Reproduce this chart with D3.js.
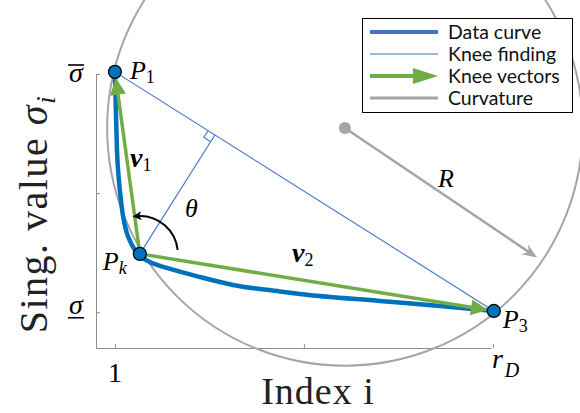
<!DOCTYPE html>
<html>
<head>
<meta charset="utf-8">
<script src="https://cdn.jsdelivr.net/npm/d3@7"></script>
<style>
  body { margin: 0; background: #fff; }
  text { font-family: "Liberation Serif", serif; }
  .legend text { font-family: Lato, "Open Sans", sans-serif; }
</style>
</head>
<body>
<script>
const width = 580;
const height = 413;

// Data: singular value curve (index, value)
const curveIdx = [1.000, 1.005, 1.011, 1.021, 1.032, 1.042, 1.063, 1.085, 1.106, 1.132,
  1.185, 1.275, 1.450, 1.624, 1.873, 1.979, 2.402, 2.720, 3.005];
const curveVal = [3.018, 2.699, 2.363, 2.111, 1.943, 1.817, 1.666, 1.582, 1.523, 1.473,
  1.422, 1.372, 1.296, 1.229, 1.175, 1.154, 1.095, 1.053, 1.011];

// Knee points P1, Pk, P3
const kneeNames = ["1", "k", "3"];
const kneeIdx = [1.0, 1.132, 3.005];
const kneeVal = [3.018, 1.49, 1.011];

// Curvature circle centre
const centreIdx = 2.217;
const centreVal = 2.547;

const xTicks = [1, 2, 3];
const xTickLabels = ["1", "", "r_D"];
const yTicks = [1, 2, 3];
const yTickLabels = ["under", "", "over"];

const legendItems = ["Data curve", "Knee finding", "Knee vectors", "Curvature"];

const blue = "#0072BD";
const lightBlue = "#4472C4";
const green = "#70AD47";
const grey = "#A5A5A5";
const axisGrey = "#8c8c8c";

// Scales
const x = d3.scaleLinear().domain([0.9, 2.99]).range([96, 491]);
const y = d3.scaleLinear().domain([0.7, 3]).range([348, 74]);

const svg = d3
  .select("body")
  .append("svg")
  .attr("width", width)
  .attr("height", height);

// Axes
const xAxis = d3.axisBottom(x).tickValues(xTicks).tickSizeInner(-4).tickSizeOuter(0).tickFormat("");
const yAxis = d3.axisLeft(y).tickValues(yTicks).tickSizeInner(-4).tickSizeOuter(0).tickFormat("");

const gx = svg.append("g").attr("transform", `translate(0,${y(0.7)})`).call(xAxis);
const gy = svg.append("g").attr("transform", `translate(${x(0.9)},0)`).call(yAxis);
[gx, gy].forEach(g => {
  g.select(".domain").attr("stroke", axisGrey);
  g.selectAll(".tick line").attr("stroke", axisGrey);
});

// x tick labels
svg.append("text").attr("x", x(xTicks[0])).attr("y", 382)
  .attr("text-anchor", "middle").attr("font-size", 28).text(xTickLabels[0]);
const rd = svg.append("text").attr("x", x(xTicks[2]) - 1).attr("y", 368).attr("font-size", 28);
rd.append("tspan").attr("font-style", "italic").text("r");
rd.append("tspan").attr("font-style", "italic").attr("font-size", 20).attr("dy", 9).attr("dx", 2).text("D");

// y tick labels (sigma with bar)
svg.append("text").attr("x", 76).attr("y", y(yTicks[2]) + 8)
  .attr("text-anchor", "middle").attr("font-size", 28).attr("font-style", "italic").text("σ");
svg.append("line").attr("x1", 68).attr("x2", 84)
  .attr("y1", y(yTicks[2]) - 9).attr("y2", y(yTicks[2]) - 9)
  .attr("stroke", "#000").attr("stroke-width", 1.6);
svg.append("text").attr("x", 76).attr("y", y(yTicks[0]) + 2)
  .attr("text-anchor", "middle").attr("font-size", 28).attr("font-style", "italic").text("σ");
svg.append("line").attr("x1", 68).attr("x2", 84)
  .attr("y1", y(yTicks[0]) + 5.5).attr("y2", y(yTicks[0]) + 5.5)
  .attr("stroke", "#000").attr("stroke-width", 1.6);

// Axis titles
svg.append("text").attr("x", 318).attr("y", 404).attr("text-anchor", "middle")
  .attr("font-size", 38).attr("fill", "#222").attr("letter-spacing", 1).text("Index i");
const yl = svg.append("text")
  .attr("transform", "translate(47,214) rotate(-90)")
  .attr("text-anchor", "middle").attr("font-size", 40).attr("fill", "#222").attr("letter-spacing", 1.5);
yl.append("tspan").text("Sing.  value ");
yl.append("tspan").attr("font-style", "italic").text("σ");
yl.append("tspan").attr("font-style", "italic").attr("font-size", 28).attr("dy", 8).text("i");

// pixel positions of knee points
const P = kneeIdx.map((d, i) => [x(d), y(kneeVal[i])]);
const C = [x(centreIdx), y(centreVal)];
const dist = (a, b) => Math.hypot(a[0] - b[0], a[1] - b[1]);
const radius = d3.mean(P, p => dist(p, C));

// Curvature circle
svg.append("circle").attr("cx", C[0]).attr("cy", C[1]).attr("r", radius)
  .attr("fill", "none").attr("stroke", grey).attr("stroke-width", 2);

function head(tip, dir, len, wid, color, notch) {
  const bx = tip[0] - dir[0] * len, by = tip[1] - dir[1] * len;
  const nx = -dir[1], ny = dir[0];
  const pts = [tip, [bx + nx * wid / 2, by + ny * wid / 2]];
  if (notch) pts.push([tip[0] - dir[0] * (len - notch), tip[1] - dir[1] * (len - notch)]);
  pts.push([bx - nx * wid / 2, by - ny * wid / 2]);
  svg.append("polygon").attr("points", pts.map(p => p.join(",")).join(" ")).attr("fill", color);
}
function unit(a, b) {
  const d = dist(a, b);
  return [(b[0] - a[0]) / d, (b[1] - a[1]) / d];
}

// Radius arrow
const rAng = 34 * Math.PI / 180;
const rDir = [Math.cos(rAng), Math.sin(rAng)];
const rTip = [C[0] + rDir[0] * (radius - 6), C[1] + rDir[1] * (radius - 6)];
svg.append("line").attr("x1", C[0]).attr("y1", C[1])
  .attr("x2", rTip[0] - rDir[0] * 8).attr("y2", rTip[1] - rDir[1] * 8)
  .attr("stroke", grey).attr("stroke-width", 2.5);
head(rTip, rDir, 15, 12, grey, 5);
svg.append("circle").attr("cx", C[0]).attr("cy", C[1]).attr("r", 6).attr("fill", grey);

// Knee finding line and perpendicular
svg.append("line").attr("x1", P[0][0]).attr("y1", P[0][1]).attr("x2", P[2][0]).attr("y2", P[2][1])
  .attr("stroke", lightBlue).attr("stroke-width", 1.1);
const u = unit(P[0], P[2]);
const t = (P[1][0] - P[0][0]) * u[0] + (P[1][1] - P[0][1]) * u[1];
const foot = [P[0][0] + u[0] * t, P[0][1] + u[1] * t];
svg.append("line").attr("x1", P[1][0]).attr("y1", P[1][1]).attr("x2", foot[0]).attr("y2", foot[1])
  .attr("stroke", lightBlue).attr("stroke-width", 1.1);
const n = unit(foot, P[1]);
const s = 8;
svg.append("path")
  .attr("d", `M${foot[0] - u[0] * s},${foot[1] - u[1] * s}
    L${foot[0] - u[0] * s + n[0] * s},${foot[1] - u[1] * s + n[1] * s}
    L${foot[0] + n[0] * s},${foot[1] + n[1] * s}`)
  .attr("fill", "none").attr("stroke", lightBlue).attr("stroke-width", 1.1);

// Data curve
const line = d3.line().x(d => x(d[0])).y(d => y(d[1])).curve(d3.curveMonotoneX);
svg.append("path").datum(curveIdx.map((d, i) => [d, curveVal[i]]))
  .attr("d", line).attr("fill", "none").attr("stroke", blue).attr("stroke-width", 4.5);

// Knee vectors
[0, 2].forEach(j => {
  const dir = unit(P[1], P[j]);
  const tip = [P[j][0] - dir[0] * 6, P[j][1] - dir[1] * 6];
  svg.append("line").attr("x1", P[1][0]).attr("y1", P[1][1])
    .attr("x2", tip[0] - dir[0] * 14).attr("y2", tip[1] - dir[1] * 14)
    .attr("stroke", green).attr("stroke-width", 3.5);
  head(tip, dir, 17, 16, green);
});

// Angle arc
const ar = 38;
const a0 = 6 * Math.PI / 180, a1 = 92 * Math.PI / 180, aTip = 101 * Math.PI / 180;
const pt = a => [P[1][0] + ar * Math.cos(a), P[1][1] - ar * Math.sin(a)];
svg.append("path")
  .attr("d", `M${pt(a0).join(",")} A${ar},${ar} 0 0 0 ${pt(a1).join(",")}`)
  .attr("fill", "none").attr("stroke", "#000").attr("stroke-width", 2);
head(pt(aTip), unit(pt(a1 - 0.05), pt(aTip)), 9, 9, "#000", 2.5);

// Markers
svg.selectAll(".knee").data(P).enter().append("circle")
  .attr("cx", d => d[0]).attr("cy", d => d[1]).attr("r", 6.5)
  .attr("fill", blue).attr("stroke", "#000").attr("stroke-width", 1.2);

// Labels
function mathLabel(px, py, main, sub, opts = {}) {
  const tx = svg.append("text").attr("x", px).attr("y", py).attr("font-size", opts.size || 26);
  tx.append("tspan").attr("font-style", "italic").attr("font-weight", opts.bold ? "bold" : null).text(main);
  if (sub) tx.append("tspan").attr("font-size", 18).attr("dy", opts.dy || 4)
    .attr("font-style", opts.subItalic ? "italic" : null).text(sub);
}
mathLabel(P[0][0] + 15, P[0][1] + 7, "P", kneeNames[0]);
mathLabel(P[1][0] - 37, P[1][1] + 16, "P", kneeNames[1], { subItalic: true });
mathLabel(P[2][0] + 9, P[2][1] + 17, "P", kneeNames[2]);
mathLabel(130, 167, "v", "1", { bold: true, size: 28 });
mathLabel(292, 262, "v", "2", { bold: true, size: 28 });
mathLabel(185, 217, "θ", null);
mathLabel(438, 187, "R", null);

// Legend
const lg = svg.append("g").attr("class", "legend");
lg.append("rect").attr("x", 362.5).attr("y", 18.5).attr("width", 210).attr("height", 94)
  .attr("fill", "#fff").attr("stroke", "#000").attr("stroke-width", 1);
const rowY = [32, 54, 76, 98];
lg.append("line").attr("x1", 370).attr("x2", 438).attr("y1", rowY[0]).attr("y2", rowY[0])
  .attr("stroke", lightBlue).attr("stroke-width", 4);
lg.append("line").attr("x1", 370).attr("x2", 438).attr("y1", rowY[1]).attr("y2", rowY[1])
  .attr("stroke", lightBlue).attr("stroke-width", 1.2);
lg.append("line").attr("x1", 370).attr("x2", 416).attr("y1", rowY[2]).attr("y2", rowY[2])
  .attr("stroke", green).attr("stroke-width", 4);
lg.append("polygon")
  .attr("points", `438,${rowY[2]} 413,${rowY[2] - 8} 413,${rowY[2] + 8}`).attr("fill", green);
lg.append("line").attr("x1", 370).attr("x2", 438).attr("y1", rowY[3]).attr("y2", rowY[3])
  .attr("stroke", grey).attr("stroke-width", 3);
lg.selectAll(".lt").data(legendItems).enter().append("text")
  .attr("x", 448).attr("y", (d, i) => rowY[i] + 7)
  .attr("font-size", 19.5).attr("fill", "#111").text(d => d);
</script>
</body>
</html>
